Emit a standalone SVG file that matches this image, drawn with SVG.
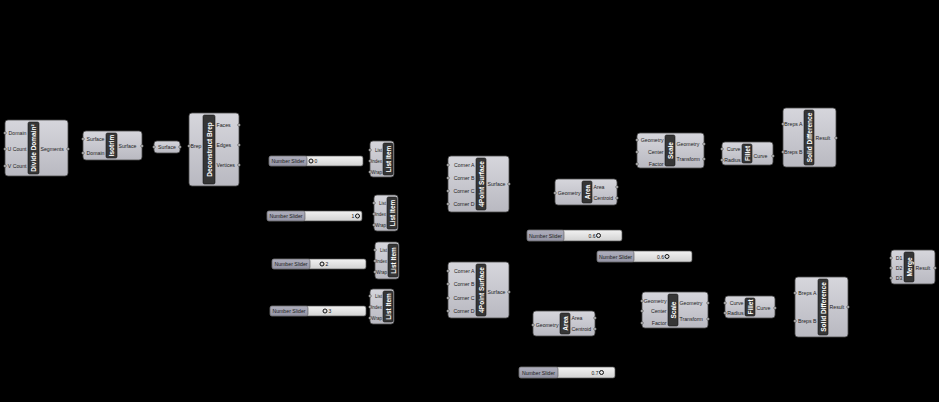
<svg xmlns="http://www.w3.org/2000/svg" width="939" height="402" viewBox="0 0 939 402">
<defs>
<linearGradient id="gb" x1="0" y1="0" x2="0" y2="1"><stop offset="0" stop-color="#d6d6dc"/><stop offset="1" stop-color="#b9b9c1"/></linearGradient>
<linearGradient id="gs" x1="0" y1="0" x2="0" y2="1"><stop offset="0" stop-color="#f2f2f2"/><stop offset="1" stop-color="#d2d2d2"/></linearGradient>
<linearGradient id="gl" x1="0" y1="0" x2="0" y2="1"><stop offset="0" stop-color="#b0b0be"/><stop offset="1" stop-color="#9494a4"/></linearGradient>
</defs>
<style>
.body{fill:url(#gb);stroke:#4a4a4a;stroke-width:0.8}
.strip{fill:#363636;stroke:#1a1a1a;stroke-width:0.6}
.st{font-family:"Liberation Sans",Arial,sans-serif;font-size:6.5px;font-weight:bold;fill:#ffffff;text-anchor:middle;dominant-baseline:central}
.in{font-family:"Liberation Sans",Arial,sans-serif;font-size:5.2px;fill:#222;text-anchor:end;dominant-baseline:central}
.out{font-family:"Liberation Sans",Arial,sans-serif;font-size:5.2px;fill:#222;text-anchor:start;dominant-baseline:central}
.sm{font-size:4.5px}
.mid{font-family:"Liberation Sans",Arial,sans-serif;font-size:5.2px;fill:#222;text-anchor:middle;dominant-baseline:central}
.grip{fill:#d0d0d0;stroke:#333;stroke-width:0.5}
.sl{fill:url(#gs);stroke:#555;stroke-width:0.7}
.sll{fill:url(#gl);stroke:#555;stroke-width:0.6}
.knob{fill:none;stroke:#111;stroke-width:1}
.val{font-family:"Liberation Sans",Arial,sans-serif;font-size:5px;fill:#111;dominant-baseline:central}
</style>
<rect x="0" y="0" width="939" height="402" fill="#000"/>
<g id="connectors"></g>

<g id="divide-domain">
<rect class="body" x="5" y="120" width="63" height="56" rx="3"/>
<rect class="strip" x="28" y="122" width="11" height="52" rx="1.5"/>
<text class="st" transform="translate(33.5,148) rotate(-90)">Divide Domain²</text>
<text class="in" x="26.5" y="133">Domain</text>
<text class="in" x="26.5" y="149">U Count</text>
<text class="in" x="26.5" y="166">V Count</text>
<text class="out" x="40.5" y="149">Segments</text>
<circle class="grip" cx="5" cy="133" r="1.3"/><circle class="grip" cx="5" cy="149" r="1.3"/><circle class="grip" cx="5" cy="166" r="1.3"/><circle class="grip" cx="68" cy="149" r="1.3"/>
</g>

<g id="isotrim">
<rect class="body" x="83" y="131" width="59" height="29" rx="3"/>
<rect class="strip" x="106" y="133" width="11" height="25" rx="1.5"/>
<text class="st" transform="translate(111.5,145.5) rotate(-90)">Isotrim</text>
<text class="in" x="104.5" y="139">Surface</text>
<text class="in" x="104.5" y="153">Domain</text>
<text class="out" x="118.5" y="146">Surface</text>
<circle class="grip" cx="83" cy="139" r="1.3"/><circle class="grip" cx="83" cy="153" r="1.3"/><circle class="grip" cx="142" cy="146" r="1.3"/>
</g>

<g id="surface">
<rect class="body" x="154" y="141" width="26" height="12" rx="3"/>
<text class="mid" x="167" y="147">Surface</text>
<circle class="grip" cx="154" cy="147" r="1.3"/><circle class="grip" cx="180" cy="147" r="1.3"/>
</g>

<g id="deconstruct-brep">
<rect class="body" x="189" y="113" width="50" height="73" rx="3"/>
<rect class="strip" x="203" y="115" width="12" height="69" rx="1.5"/>
<text class="st" transform="translate(209,149.5) rotate(-90)">Deconstruct Brep</text>
<text class="in" x="201.5" y="146">Brep</text>
<text class="out" x="216.5" y="125">Faces</text>
<text class="out" x="216.5" y="145">Edges</text>
<text class="out" x="216.5" y="165">Vertices</text>
<circle class="grip" cx="189" cy="146" r="1.3"/><circle class="grip" cx="239" cy="125" r="1.3"/><circle class="grip" cx="239" cy="145" r="1.3"/><circle class="grip" cx="239" cy="165" r="1.3"/>
</g>

<g id="slider-1">
<rect class="sl" x="269" y="156" width="94" height="10" rx="2"/>
<rect class="sll" x="269" y="156" width="38" height="10" rx="2"/>
<text class="mid" x="288" y="161">Number Slider</text>
<circle class="knob" cx="311" cy="161" r="2"/>
<text class="val" x="314.5" y="161">0</text>
</g>

<g id="list-item-1">
<rect class="body" x="370" y="141" width="24" height="36" rx="3"/>
<rect class="strip" x="383" y="143" width="10" height="32" rx="1.5"/>
<text class="st" transform="translate(388,159) rotate(-90)">List Item</text>
<text class="in sm" x="382" y="150">List</text>
<text class="in sm" x="382" y="161">Index</text>
<text class="in sm" x="382" y="172">Wrap</text>
<circle class="grip" cx="370" cy="150" r="1.3"/><circle class="grip" cx="370" cy="161" r="1.3"/><circle class="grip" cx="370" cy="172" r="1.3"/>
</g>

<g id="slider-2">
<rect class="sl" x="267" y="211" width="95" height="10" rx="2"/>
<rect class="sll" x="267" y="211" width="38" height="10" rx="2"/>
<text class="mid" x="286" y="216">Number Slider</text>
<text class="val" x="351.5" y="216">1</text>
<circle class="knob" cx="357.5" cy="216" r="2"/>
</g>

<g id="list-item-2">
<rect class="body" x="374" y="195" width="24" height="36" rx="3"/>
<rect class="strip" x="387" y="197" width="10" height="32" rx="1.5"/>
<text class="st" transform="translate(392,213) rotate(-90)">List Item</text>
<text class="in sm" x="386" y="203">List</text>
<text class="in sm" x="386" y="214">Index</text>
<text class="in sm" x="386" y="225">Wrap</text>
<circle class="grip" cx="374" cy="203" r="1.3"/><circle class="grip" cx="374" cy="214" r="1.3"/><circle class="grip" cx="374" cy="225" r="1.3"/>
</g>

<g id="slider-3">
<rect class="sl" x="272" y="259" width="94" height="10" rx="2"/>
<rect class="sll" x="272" y="259" width="38" height="10" rx="2"/>
<text class="mid" x="291" y="264">Number Slider</text>
<circle class="knob" cx="322" cy="264" r="2"/>
<text class="val" x="325.5" y="264">2</text>
</g>

<g id="list-item-3">
<rect class="body" x="375" y="242" width="24" height="37" rx="3"/>
<rect class="strip" x="388" y="244" width="10" height="33" rx="1.5"/>
<text class="st" transform="translate(393,260.5) rotate(-90)">List Item</text>
<text class="in sm" x="387" y="250">List</text>
<text class="in sm" x="387" y="261">Index</text>
<text class="in sm" x="387" y="272">Wrap</text>
<circle class="grip" cx="375" cy="250" r="1.3"/><circle class="grip" cx="375" cy="261" r="1.3"/><circle class="grip" cx="375" cy="272" r="1.3"/>
</g>

<g id="slider-4">
<rect class="sl" x="270" y="306" width="96" height="10" rx="2"/>
<rect class="sll" x="270" y="306" width="38" height="10" rx="2"/>
<text class="mid" x="289" y="311">Number Slider</text>
<circle class="knob" cx="325" cy="311" r="2"/>
<text class="val" x="328.5" y="311">3</text>
</g>

<g id="list-item-4">
<rect class="body" x="370" y="289" width="24" height="35" rx="3"/>
<rect class="strip" x="383" y="291" width="10" height="31" rx="1.5"/>
<text class="st" transform="translate(388,306.5) rotate(-90)">List Item</text>
<text class="in sm" x="382" y="296">List</text>
<text class="in sm" x="382" y="307">Index</text>
<text class="in sm" x="382" y="318">Wrap</text>
<circle class="grip" cx="370" cy="296" r="1.3"/><circle class="grip" cx="370" cy="307" r="1.3"/><circle class="grip" cx="370" cy="318" r="1.3"/>
</g>

<g id="4point-surface-1">
<rect class="body" x="448" y="156" width="61" height="56" rx="3"/>
<rect class="strip" x="476" y="158" width="10" height="52" rx="1.5"/>
<text class="st" transform="translate(481,184) rotate(-90)">4Point Surface</text>
<text class="in" x="474.5" y="165">Corner A</text>
<text class="in" x="474.5" y="178">Corner B</text>
<text class="in" x="474.5" y="191">Corner C</text>
<text class="in" x="474.5" y="204">Corner D</text>
<text class="out" x="487.5" y="184">Surface</text>
<circle class="grip" cx="448" cy="165" r="1.3"/><circle class="grip" cx="448" cy="178" r="1.3"/><circle class="grip" cx="448" cy="191" r="1.3"/><circle class="grip" cx="448" cy="204" r="1.3"/><circle class="grip" cx="509" cy="184" r="1.3"/>
</g>

<g id="4point-surface-2">
<rect class="body" x="448" y="262" width="61" height="56" rx="3"/>
<rect class="strip" x="476" y="264" width="10" height="52" rx="1.5"/>
<text class="st" transform="translate(481,290) rotate(-90)">4Point Surface</text>
<text class="in" x="474.5" y="271">Corner A</text>
<text class="in" x="474.5" y="284">Corner B</text>
<text class="in" x="474.5" y="298">Corner C</text>
<text class="in" x="474.5" y="311">Corner D</text>
<text class="out" x="487.5" y="292">Surface</text>
<circle class="grip" cx="448" cy="271" r="1.3"/><circle class="grip" cx="448" cy="284" r="1.3"/><circle class="grip" cx="448" cy="298" r="1.3"/><circle class="grip" cx="448" cy="311" r="1.3"/><circle class="grip" cx="509" cy="292" r="1.3"/>
</g>

<g id="area-1">
<rect class="body" x="555" y="179" width="62" height="26" rx="3"/>
<rect class="strip" x="582" y="181" width="10" height="22" rx="1.5"/>
<text class="st" transform="translate(587,192) rotate(-90)">Area</text>
<text class="in" x="580.5" y="193">Geometry</text>
<text class="out" x="593.5" y="187">Area</text>
<text class="out" x="593.5" y="198">Centroid</text>
<circle class="grip" cx="555" cy="193" r="1.3"/><circle class="grip" cx="617" cy="187" r="1.3"/><circle class="grip" cx="617" cy="198" r="1.3"/>
</g>

<g id="area-2">
<rect class="body" x="533" y="311" width="62" height="25" rx="3"/>
<rect class="strip" x="560" y="313" width="10" height="21" rx="1.5"/>
<text class="st" transform="translate(565,323.5) rotate(-90)">Area</text>
<text class="in" x="558.5" y="325">Geometry</text>
<text class="out" x="571.5" y="318">Area</text>
<text class="out" x="571.5" y="329">Centroid</text>
<circle class="grip" cx="533" cy="325" r="1.3"/><circle class="grip" cx="595" cy="318" r="1.3"/><circle class="grip" cx="595" cy="329" r="1.3"/>
</g>

<g id="slider-5">
<rect class="sl" x="527" y="230" width="95" height="11" rx="2"/>
<rect class="sll" x="527" y="230" width="37" height="11" rx="2"/>
<text class="mid" x="545.5" y="235.5">Number Slider</text>
<text class="val" x="588.5" y="235.5">0.6</text>
<circle class="knob" cx="598.5" cy="235.5" r="2"/>
</g>

<g id="slider-6">
<rect class="sl" x="597" y="251" width="95" height="11" rx="2"/>
<rect class="sll" x="597" y="251" width="37" height="11" rx="2"/>
<text class="mid" x="615.5" y="256.5">Number Slider</text>
<text class="val" x="657" y="256.5">0.6</text>
<circle class="knob" cx="667" cy="256.5" r="2"/>
</g>

<g id="slider-7">
<rect class="sl" x="519" y="367" width="96" height="11" rx="2"/>
<rect class="sll" x="519" y="367" width="39" height="11" rx="2"/>
<text class="mid" x="538.5" y="372.5">Number Slider</text>
<text class="val" x="591.5" y="372.5">0.7</text>
<circle class="knob" cx="601.5" cy="372.5" r="2"/>
</g>

<g id="scale-1">
<rect class="body" x="637" y="133" width="67" height="35" rx="3"/>
<rect class="strip" x="665" y="135" width="10" height="31" rx="1.5"/>
<text class="st" transform="translate(670,150.5) rotate(-90)">Scale</text>
<text class="in" x="663.5" y="140">Geometry</text>
<text class="in" x="663.5" y="152">Center</text>
<text class="in" x="663.5" y="164">Factor</text>
<text class="out" x="676.5" y="144">Geometry</text>
<text class="out" x="676.5" y="159">Transform</text>
<circle class="grip" cx="637" cy="140" r="1.3"/><circle class="grip" cx="637" cy="152" r="1.3"/><circle class="grip" cx="637" cy="164" r="1.3"/><circle class="grip" cx="704" cy="144" r="1.3"/><circle class="grip" cx="704" cy="159" r="1.3"/>
</g>

<g id="scale-2">
<rect class="body" x="642" y="292" width="66" height="36" rx="3"/>
<rect class="strip" x="668" y="294" width="10" height="32" rx="1.5"/>
<text class="st" transform="translate(673,310) rotate(-90)">Scale</text>
<text class="in" x="666.5" y="301">Geometry</text>
<text class="in" x="666.5" y="311">Center</text>
<text class="in" x="666.5" y="323">Factor</text>
<text class="out" x="679.5" y="303">Geometry</text>
<text class="out" x="679.5" y="319">Transform</text>
<circle class="grip" cx="642" cy="301" r="1.3"/><circle class="grip" cx="642" cy="311" r="1.3"/><circle class="grip" cx="642" cy="323" r="1.3"/><circle class="grip" cx="708" cy="303" r="1.3"/><circle class="grip" cx="708" cy="319" r="1.3"/>
</g>

<g id="fillet-1">
<rect class="body" x="722" y="142" width="51" height="23" rx="3"/>
<rect class="strip" x="742" y="144" width="10" height="19" rx="1.5"/>
<text class="st" transform="translate(747,153.5) rotate(-90)">Fillet</text>
<text class="in" x="740.5" y="149">Curve</text>
<text class="in" x="740.5" y="160">Radius</text>
<text class="out" x="753.5" y="156">Curve</text>
<circle class="grip" cx="722" cy="149" r="1.3"/><circle class="grip" cx="722" cy="160" r="1.3"/><circle class="grip" cx="773" cy="156" r="1.3"/>
</g>

<g id="fillet-2">
<rect class="body" x="725" y="296" width="50" height="22" rx="3"/>
<rect class="strip" x="745" y="298" width="10" height="18" rx="1.5"/>
<text class="st" transform="translate(750,307) rotate(-90)">Fillet</text>
<text class="in" x="743.5" y="303">Curve</text>
<text class="in" x="743.5" y="313">Radius</text>
<text class="out" x="756.5" y="308">Curve</text>
<circle class="grip" cx="725" cy="303" r="1.3"/><circle class="grip" cx="725" cy="313" r="1.3"/><circle class="grip" cx="775" cy="308" r="1.3"/>
</g>

<g id="solid-difference-1">
<rect class="body" x="783" y="108" width="53" height="59" rx="3"/>
<rect class="strip" x="804" y="110" width="10" height="55" rx="1.5"/>
<text class="st" transform="translate(809,137.5) rotate(-90)">Solid Difference</text>
<text class="in" x="802.5" y="124">Breps A</text>
<text class="in" x="802.5" y="152">Breps B</text>
<text class="out" x="815.5" y="138">Result</text>
<circle class="grip" cx="783" cy="124" r="1.3"/><circle class="grip" cx="783" cy="152" r="1.3"/><circle class="grip" cx="836" cy="138" r="1.3"/>
</g>

<g id="solid-difference-2">
<rect class="body" x="795" y="277" width="53" height="60" rx="3"/>
<rect class="strip" x="818" y="279" width="10" height="56" rx="1.5"/>
<text class="st" transform="translate(823,307) rotate(-90)">Solid Difference</text>
<text class="in" x="816.5" y="293">Breps A</text>
<text class="in" x="816.5" y="321">Breps B</text>
<text class="out" x="829.5" y="307">Result</text>
<circle class="grip" cx="795" cy="293" r="1.3"/><circle class="grip" cx="795" cy="321" r="1.3"/><circle class="grip" cx="848" cy="307" r="1.3"/>
</g>

<g id="merge">
<rect class="body" x="891" y="250" width="44" height="34" rx="3"/>
<rect class="strip" x="904" y="252" width="10" height="30" rx="1.5"/>
<text class="st" transform="translate(909,267) rotate(-90)">Merge</text>
<text class="in" x="902.5" y="258">D1</text>
<text class="in" x="902.5" y="268">D2</text>
<text class="in" x="902.5" y="278">D3</text>
<text class="out" x="915.5" y="268">Result</text>
<circle class="grip" cx="891" cy="258" r="1.3"/><circle class="grip" cx="891" cy="268" r="1.3"/><circle class="grip" cx="891" cy="278" r="1.3"/><circle class="grip" cx="935" cy="268" r="1.3"/>
</g>
</svg>
